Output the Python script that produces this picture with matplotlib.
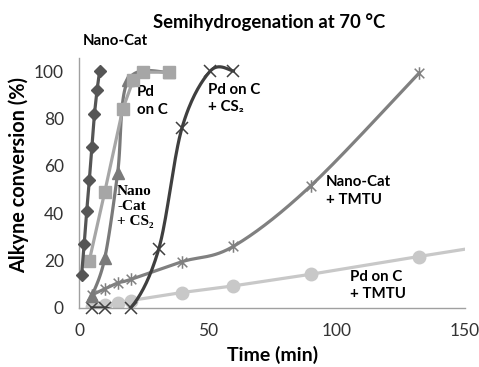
import numpy as np
import matplotlib
matplotlib.use("Agg")
import matplotlib.pyplot as plt
from matplotlib.path import Path

# ---- data ----
nano_x = [1, 2, 3, 4, 5, 6, 7, 8]
nano_y = [14, 27, 41, 54, 68, 82, 92, 100]

pdc_x = [4, 10, 17, 21, 25, 35]
pdc_y = [20, 49, 84, 96, 99.5, 99.5]

nanocs2_x = [5, 10, 15, 19, 35]
nanocs2_y = [5, 21, 57, 96, 99.5]

pdccs2_x = [5, 10, 20, 31, 40, 51, 60]
pdccs2_y = [0, 0, 0, 25, 76, 100, 100]

nanotmtu_x = [5, 10, 15, 20, 40, 60, 90, 132]
nanotmtu_y = [5.5, 8, 10.5, 12, 19.5, 26, 51.5, 99]

pdctmtu_x = [5, 10, 15, 20, 40, 60, 90, 132, 150]
pdctmtu_y = [0.3, 1.3, 2.2, 3.1, 6.5, 9.3, 14.2, 21.7, 24.8]

xticks = [0, 50, 100, 150]
yticks = [0, 20, 40, 60, 80, 100]

FONT = ['Lato', 'DejaVu Sans']
plt.rcParams['font.family'] = FONT


def smooth(x, y, n=30):
    """Excel-like smoothed line (Catmull-Rom / Bezier)."""
    P = np.column_stack([x, y]).astype(float)
    ext = np.vstack([P[0], P, P[-1]])
    out = []
    t = np.linspace(0, 1, n)
    for i in range(1, len(ext) - 2):
        p0, p1, p2, p3 = ext[i - 1], ext[i], ext[i + 1], ext[i + 2]
        b0 = p1
        b1 = p1 + (p2 - p0) / 6.0
        b2 = p2 - (p3 - p1) / 6.0
        b3 = p2
        seg = ((1 - t) ** 3)[:, None] * b0 + (3 * (1 - t) ** 2 * t)[:, None] * b1 \
            + (3 * (1 - t) * t ** 2)[:, None] * b2 + (t ** 3)[:, None] * b3
        out.append(seg)
    s = np.vstack(out)
    return s[:, 0], s[:, 1]


star = Path([(-1, -1), (1, 1), (-1, 1), (1, -1), (0, -1.3), (0, 1.3)],
            [Path.MOVETO, Path.LINETO, Path.MOVETO, Path.LINETO, Path.MOVETO, Path.LINETO])

fig = plt.figure(figsize=(4.79, 3.67), dpi=100)
ax = fig.add_axes([0.165, 0.161, 0.806, 0.681])

c_nano = '#555555'
c_pdc = '#a6a6a6'
c_ncs2 = '#7a7a7a'
c_pcs2 = '#3f3f3f'
c_ntm = '#808080'
c_ptm = '#c8c8c8'
lw = 2.3

# Pd on C + TMTU
ax.plot(pdctmtu_x, pdctmtu_y, color=c_ptm, lw=lw, zorder=2)
ax.plot(pdctmtu_x[:-1], pdctmtu_y[:-1], ls='none', marker='o', ms=9,
        color=c_ptm, zorder=2)

# Nano-Cat + TMTU
sx, sy = smooth(nanotmtu_x, nanotmtu_y)
ax.plot(sx, sy, color=c_ntm, lw=lw, zorder=3)
ax.plot(nanotmtu_x, nanotmtu_y, ls='none', marker=star, ms=9, mew=1.1,
        color=c_ntm, zorder=3)

# Pd on C + CS2
sx, sy = smooth(pdccs2_x, pdccs2_y)
ax.plot(sx, sy, color=c_pcs2, lw=lw, zorder=4)
ax.plot(pdccs2_x, pdccs2_y, ls='none', marker='x', ms=8, mew=1.1,
        color=c_pcs2, zorder=4, clip_on=False)

# Nano-Cat + CS2
sx, sy = smooth(nanocs2_x, nanocs2_y)
ax.plot(sx, sy, color=c_ncs2, lw=lw, zorder=5)
ax.plot(nanocs2_x, nanocs2_y, ls='none', marker='^', ms=8,
        color=c_ncs2, zorder=5)

# Pd on C
ax.plot(pdc_x, pdc_y, color=c_pdc, lw=lw, marker='s', ms=8, zorder=6)

# Nano-Cat
ax.plot(nano_x, nano_y, color=c_nano, lw=lw, marker='D', ms=6.5, zorder=7,
        clip_on=False)

ax.set_xlim(0, 150)
ax.set_ylim(0, 105.5)
ax.set_xticks(xticks)
ax.set_yticks(yticks)
ax.tick_params(length=0, labelsize=12.5, colors='#333333')
ax.tick_params(axis='y', pad=11)
ax.tick_params(axis='x', pad=11)
for s in ['top', 'right']:
    ax.spines[s].set_visible(False)
for s in ['left', 'bottom']:
    ax.spines[s].set_color('#a0a0a0')
    ax.spines[s].set_linewidth(1.0)

ax.set_xlabel('Time (min)', fontsize=14, fontweight='bold', labelpad=5)
ax.set_ylabel('Alkyne conversion (%)', fontsize=14.3, fontweight='bold')
ax.yaxis.set_label_coords(-0.13, 0.532)
fig.text(0.562, 0.94, 'Semihydrogenation at 70 °C', ha='center', va='center',
         fontsize=13.3, fontweight='bold')

kw = dict(fontsize=10.8, fontweight='bold', va='top', ha='left', linespacing=1.3,
          clip_on=False, family=FONT)
ax.text(1.5, 115.5, 'Nano-Cat', **kw)
ax.text(22.5, 94, 'Pd\non C', **kw)
ax.text(14.8, 52, 'Nano\n-Cat\n+ CS₂', fontsize=11, fontweight='bold', va='top',
        ha='left', linespacing=1.2, family=['Liberation Serif', 'DejaVu Serif'])
ax.text(50.1, 95, 'Pd on C\n+ CS₂', **kw)
ax.text(96, 56, 'Nano-Cat\n+ TMTU', **kw)
ax.text(105.3, 16, 'Pd on C\n+ TMTU', **kw)

fig.savefig('out.png', dpi=100)
